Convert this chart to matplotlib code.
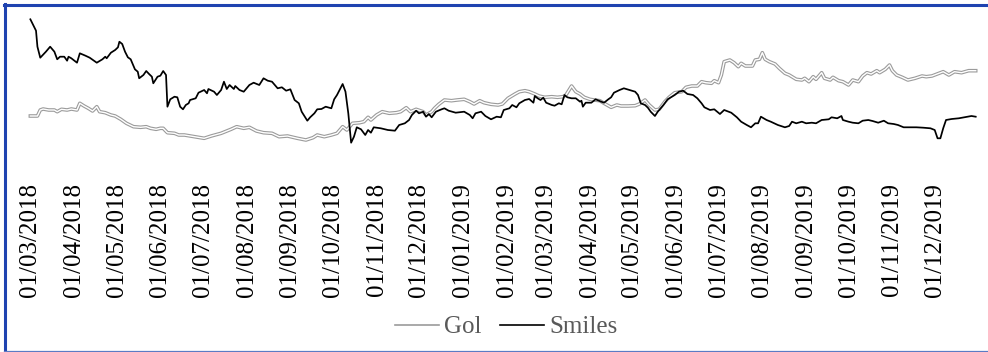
import matplotlib
matplotlib.use("Agg")
import matplotlib.pyplot as plt
import matplotlib.dates as mdates
from matplotlib.lines import Line2D
import pandas as pd

# Smiles (black line), values on an arbitrary index scale
SMILES_DATES = [
    "2018-03-01", "2018-03-05", "2018-03-06", "2018-03-08", "2018-03-12", "2018-03-15", "2018-03-18", "2018-03-20",
    "2018-03-22", "2018-03-25", "2018-03-27", "2018-03-28", "2018-03-30", "2018-04-03", "2018-04-05", "2018-04-09",
    "2018-04-12", "2018-04-17", "2018-04-21", "2018-04-23", "2018-04-24", "2018-04-27", "2018-04-30", "2018-05-02",
    "2018-05-03", "2018-05-05", "2018-05-07", "2018-05-09", "2018-05-11", "2018-05-14", "2018-05-16", "2018-05-17",
    "2018-05-20", "2018-05-22", "2018-05-24", "2018-05-26", "2018-05-27", "2018-05-30", "2018-06-01", "2018-06-03",
    "2018-06-05", "2018-06-06", "2018-06-08", "2018-06-11", "2018-06-13", "2018-06-15", "2018-06-17", "2018-06-19",
    "2018-06-21", "2018-06-22", "2018-06-26", "2018-06-28", "2018-07-02", "2018-07-04", "2018-07-05", "2018-07-09",
    "2018-07-11", "2018-07-14", "2018-07-16", "2018-07-18", "2018-07-20", "2018-07-23", "2018-07-24", "2018-07-27",
    "2018-07-30", "2018-08-03", "2018-08-06", "2018-08-10", "2018-08-13", "2018-08-16", "2018-08-19", "2018-08-23",
    "2018-08-26", "2018-08-29", "2018-09-01", "2018-09-04", "2018-09-07", "2018-09-09", "2018-09-13", "2018-09-15",
    "2018-09-18", "2018-09-20", "2018-09-23", "2018-09-26", "2018-09-30", "2018-10-02", "2018-10-04", "2018-10-08",
    "2018-10-10", "2018-10-12", "2018-10-14", "2018-10-16", "2018-10-18", "2018-10-21", "2018-10-24", "2018-10-26",
    "2018-10-28", "2018-10-30", "2018-11-04", "2018-11-09", "2018-11-14", "2018-11-17", "2018-11-21", "2018-11-24",
    "2018-11-26", "2018-11-29", "2018-12-01", "2018-12-04", "2018-12-06", "2018-12-08", "2018-12-10", "2018-12-13",
    "2018-12-17", "2018-12-19", "2018-12-22", "2018-12-27", "2019-01-02", "2019-01-06", "2019-01-08", "2019-01-10",
    "2019-01-14", "2019-01-17", "2019-01-21", "2019-01-25", "2019-01-28", "2019-01-30", "2019-02-03", "2019-02-05",
    "2019-02-08", "2019-02-10", "2019-02-14", "2019-02-17", "2019-02-20", "2019-02-21", "2019-02-23", "2019-02-25",
    "2019-02-27", "2019-03-01", "2019-03-05", "2019-03-07", "2019-03-10", "2019-03-12", "2019-03-14", "2019-03-16",
    "2019-03-19", "2019-03-22", "2019-03-25", "2019-03-26", "2019-03-27", "2019-03-29", "2019-04-02", "2019-04-05",
    "2019-04-09", "2019-04-11", "2019-04-14", "2019-04-16", "2019-04-18", "2019-04-22", "2019-04-25", "2019-04-29",
    "2019-05-03", "2019-05-05", "2019-05-07", "2019-05-10", "2019-05-12", "2019-05-14", "2019-05-17", "2019-05-19",
    "2019-05-23", "2019-05-26", "2019-05-31", "2019-06-03", "2019-06-06", "2019-06-09", "2019-06-13", "2019-06-16",
    "2019-06-19", "2019-06-21", "2019-06-25", "2019-06-28", "2019-07-02", "2019-07-05", "2019-07-10", "2019-07-14",
    "2019-07-17", "2019-07-21", "2019-07-24", "2019-07-27", "2019-07-29", "2019-07-31", "2019-08-04", "2019-08-07",
    "2019-08-12", "2019-08-17", "2019-08-20", "2019-08-22", "2019-08-25", "2019-08-29", "2019-09-01", "2019-09-05",
    "2019-09-08", "2019-09-12", "2019-09-17", "2019-09-19", "2019-09-23", "2019-09-26", "2019-09-27", "2019-10-01",
    "2019-10-04", "2019-10-08", "2019-10-11", "2019-10-15", "2019-10-18", "2019-10-22", "2019-10-26", "2019-10-29",
    "2019-11-02", "2019-11-05", "2019-11-09", "2019-11-13", "2019-11-18", "2019-11-23", "2019-11-28", "2019-12-01",
    "2019-12-03", "2019-12-05", "2019-12-07", "2019-12-09", "2019-12-13", "2019-12-18", "2019-12-22", "2019-12-27",
    "2019-12-30",
]
SMILES_VALUES = [
    140.7, 129.3, 113.3, 102.3, 108.3, 113.3, 108.3, 100.7, 103.3, 103.3, 99.3, 103.3, 101.7, 97.3, 106.7, 104.3,
    102.3, 97.3, 100.7, 103.3, 101.7, 107.3, 110.0, 112.7, 118.3, 116.0, 108.3, 102.7, 100.7, 90.7, 88.3, 81.7,
    85.0, 89.0, 86.0, 83.3, 76.7, 83.3, 84.3, 89.0, 85.0, 53.3, 60.7, 63.3, 62.7, 53.3, 50.7, 55.0,
    56.7, 60.0, 61.7, 67.3, 70.0, 66.7, 71.0, 68.3, 65.0, 70.0, 78.3, 71.0, 75.0, 71.0, 74.0, 70.0,
    68.3, 75.0, 77.3, 75.0, 81.7, 79.3, 78.3, 71.7, 72.7, 69.3, 70.7, 60.0, 56.7, 48.3, 39.3, 42.7,
    46.7, 50.7, 51.0, 53.3, 51.7, 60.7, 65.0, 76.0, 68.3, 46.7, 17.3, 23.3, 32.7, 30.7, 25.0, 30.0,
    27.3, 32.7, 31.7, 30.0, 29.3, 35.0, 36.7, 40.0, 45.0, 49.3, 46.7, 48.3, 43.3, 46.0, 42.7, 48.3,
    50.7, 51.7, 49.3, 47.3, 48.3, 45.0, 41.7, 46.7, 48.3, 44.0, 40.7, 43.3, 42.7, 50.0, 51.7, 55.0,
    52.7, 56.7, 60.0, 61.0, 57.3, 64.0, 61.7, 60.0, 62.3, 57.3, 55.0, 54.3, 56.7, 55.7, 65.0, 62.7,
    61.7, 61.7, 58.3, 59.3, 53.3, 57.3, 57.3, 60.7, 58.3, 57.3, 60.7, 62.7, 67.3, 70.0, 71.7, 70.0,
    68.3, 65.0, 56.7, 55.0, 52.3, 48.3, 44.0, 48.3, 55.0, 60.7, 65.0, 68.3, 69.3, 66.0, 65.0, 61.7,
    56.7, 52.7, 50.0, 50.7, 46.0, 50.0, 47.3, 42.7, 38.3, 35.0, 32.7, 36.7, 36.7, 43.3, 40.0, 38.3,
    35.0, 32.7, 34.0, 38.3, 36.7, 38.3, 36.7, 37.3, 36.7, 40.0, 40.7, 42.7, 41.7, 44.0, 40.0, 38.3,
    37.3, 36.7, 39.3, 40.0, 39.0, 37.3, 39.3, 36.7, 36.0, 35.0, 32.7, 32.7, 32.7, 32.3, 31.7, 30.0,
    21.7, 21.7, 31.7, 40.0, 41.0, 41.7, 42.7, 44.0, 43.3,
]

# Gol (grey double line)
GOL_DATES = [
    "2018-03-01", "2018-03-06", "2018-03-08", "2018-03-10", "2018-03-14", "2018-03-18", "2018-03-20", "2018-03-23",
    "2018-03-27", "2018-03-30", "2018-04-03", "2018-04-05", "2018-04-08", "2018-04-11", "2018-04-14", "2018-04-17",
    "2018-04-19", "2018-04-23", "2018-04-27", "2018-04-30", "2018-05-04", "2018-05-08", "2018-05-13", "2018-05-18",
    "2018-05-22", "2018-05-25", "2018-05-29", "2018-06-01", "2018-06-03", "2018-06-06", "2018-06-11", "2018-06-14",
    "2018-06-18", "2018-06-25", "2018-07-02", "2018-07-07", "2018-07-14", "2018-07-21", "2018-07-25", "2018-07-30",
    "2018-08-03", "2018-08-08", "2018-08-13", "2018-08-19", "2018-08-24", "2018-08-30", "2018-09-06", "2018-09-12",
    "2018-09-17", "2018-09-20", "2018-09-25", "2018-09-30", "2018-10-04", "2018-10-08", "2018-10-11", "2018-10-15",
    "2018-10-20", "2018-10-23", "2018-10-26", "2018-10-28", "2018-11-01", "2018-11-05", "2018-11-10", "2018-11-15",
    "2018-11-18", "2018-11-22", "2018-11-25", "2018-11-29", "2018-12-04", "2018-12-06", "2018-12-10", "2018-12-12",
    "2018-12-15", "2018-12-19", "2018-12-24", "2018-12-28", "2019-01-02", "2019-01-06", "2019-01-09", "2019-01-13",
    "2019-01-16", "2019-01-21", "2019-01-26", "2019-01-29", "2019-02-02", "2019-02-07", "2019-02-10", "2019-02-14",
    "2019-02-17", "2019-02-21", "2019-02-24", "2019-02-28", "2019-03-05", "2019-03-09", "2019-03-13", "2019-03-15",
    "2019-03-18", "2019-03-19", "2019-03-22", "2019-03-25", "2019-03-28", "2019-04-01", "2019-04-04", "2019-04-08",
    "2019-04-11", "2019-04-16", "2019-04-20", "2019-04-23", "2019-04-28", "2019-05-03", "2019-05-06", "2019-05-10",
    "2019-05-13", "2019-05-17", "2019-05-20", "2019-05-24", "2019-05-27", "2019-05-31", "2019-06-05", "2019-06-08",
    "2019-06-12", "2019-06-16", "2019-06-19", "2019-06-22", "2019-06-26", "2019-06-28", "2019-07-01", "2019-07-03",
    "2019-07-05", "2019-07-09", "2019-07-12", "2019-07-15", "2019-07-17", "2019-07-20", "2019-07-23", "2019-07-25",
    "2019-07-27", "2019-07-30", "2019-08-01", "2019-08-03", "2019-08-06", "2019-08-10", "2019-08-13", "2019-08-17",
    "2019-08-20", "2019-08-25", "2019-08-29", "2019-08-31", "2019-09-03", "2019-09-06", "2019-09-08", "2019-09-12",
    "2019-09-14", "2019-09-18", "2019-09-20", "2019-09-24", "2019-09-27", "2019-10-01", "2019-10-04", "2019-10-08",
    "2019-10-11", "2019-10-14", "2019-10-17", "2019-10-21", "2019-10-23", "2019-10-27", "2019-10-30", "2019-11-01",
    "2019-11-04", "2019-11-08", "2019-11-12", "2019-11-17", "2019-11-22", "2019-11-25", "2019-11-29", "2019-12-04",
    "2019-12-07", "2019-12-11", "2019-12-15", "2019-12-20", "2019-12-25", "2019-12-30",
]
GOL_VALUES = [
    44.0, 44.0, 50.0, 51.0, 50.0, 50.0, 48.3, 50.7, 50.0, 51.0, 50.0, 56.7, 54.0, 51.7, 49.0, 53.3,
    48.3, 47.3, 45.0, 44.0, 40.7, 36.7, 33.3, 32.7, 33.3, 31.7, 30.7, 31.7, 31.7, 27.3, 26.7, 25.0,
    25.0, 23.3, 21.7, 24.0, 26.7, 30.7, 33.3, 31.7, 32.7, 29.0, 27.3, 26.7, 23.3, 24.0, 21.7, 20.0,
    22.3, 25.0, 23.3, 25.0, 26.7, 33.3, 30.0, 36.7, 37.3, 38.3, 42.7, 40.0, 45.0, 48.3, 46.7, 47.3,
    48.3, 52.3, 48.3, 50.7, 48.3, 45.0, 48.3, 51.7, 55.7, 60.0, 59.3, 60.0, 60.7, 58.3, 56.0, 59.3,
    57.3, 55.7, 55.0, 56.0, 61.7, 66.0, 68.3, 69.3, 68.3, 66.0, 64.0, 62.7, 63.3, 62.7, 63.3, 65.0,
    71.7, 74.0, 68.3, 66.0, 62.7, 60.7, 60.0, 59.3, 56.7, 52.7, 55.0, 54.0, 54.0, 54.3, 56.0, 60.0,
    55.0, 50.0, 50.7, 58.3, 62.7, 67.3, 68.3, 72.7, 74.0, 74.0, 78.3, 77.3, 76.7, 79.3, 77.3, 85.0,
    98.3, 100.0, 97.3, 93.3, 96.7, 94.0, 94.0, 94.0, 100.0, 100.7, 107.3, 100.7, 98.3, 96.0, 91.7, 86.7,
    85.0, 80.7, 80.0, 81.7, 78.3, 83.3, 80.7, 87.3, 81.7, 80.0, 82.7, 79.3, 78.3, 75.0, 80.0, 78.3,
    84.0, 87.3, 86.0, 89.3, 87.3, 90.7, 95.0, 89.3, 85.0, 82.7, 80.0, 81.7, 84.0, 83.3, 84.0, 86.7,
    88.3, 85.0, 88.3, 87.3, 89.3, 89.3,
]

TICK_DATES = pd.date_range("2018-03-01", "2019-12-01", freq="MS")
SERIES = ["Gol", "Smiles"]

FONT = "Liberation Serif"
GOL_GREY = "#9b9b9b"
BORDER_DARK = "#1f43b0"
BORDER_LIGHT = "#5b7bc4"

W, H = 988, 352
fig = plt.figure(figsize=(W / 100, H / 100), dpi=100)
ax = fig.add_axes([20 / W, 174 / H, 965 / W, 168 / H])

gol_x = pd.to_datetime(GOL_DATES)
smiles_x = pd.to_datetime(SMILES_DATES)

# grey "double" line: grey stroke with a thin white core
ax.plot(gol_x, GOL_VALUES, color=GOL_GREY, lw=2.6, solid_joinstyle="round", zorder=2)
ax.plot(gol_x, GOL_VALUES, color="white", lw=1.0, solid_joinstyle="round", zorder=3)
ax.plot(smiles_x, SMILES_VALUES, color="black", lw=1.25, solid_joinstyle="round", zorder=4)

ax.set_xlim(pd.Timestamp("2018-02-21 16:00"), pd.Timestamp("2020-01-05 14:00"))
ax.set_ylim(-18, 150)
ax.set_xticks(TICK_DATES)
ax.xaxis.set_major_formatter(mdates.DateFormatter("%d/%m/%Y"))
ax.tick_params(axis="x", length=0, pad=3.5, labelsize=18, rotation=90)
for lab in ax.get_xticklabels():
    lab.set_fontfamily(FONT)
ax.set_yticks([])
for side in ax.spines.values():
    side.set_visible(False)

handles = [
    Line2D([], [], color=GOL_GREY, lw=1.2),
    Line2D([], [], color="black", lw=1.2),
]
fig.legend(handles, SERIES, loc="center", bbox_to_anchor=(506 / W, 1 - 327 / H), ncol=2,
           frameon=False, handlelength=1.76, handletextpad=0.2, columnspacing=0.75,
           prop={"family": FONT, "size": 18}, labelcolor="#595959")

# chart-area border
fig.add_artist(Line2D([5.3 / W, 5.3 / W], [0, 1 - 4 / H], transform=fig.transFigure, color=BORDER_DARK, lw=2.2))
fig.add_artist(Line2D([4 / W, 1], [1 - 5.3 / H, 1 - 5.3 / H], transform=fig.transFigure, color=BORDER_DARK, lw=2.2))
fig.add_artist(Line2D([4 / W, 1], [1.5 / H, 1.5 / H], transform=fig.transFigure, color=BORDER_LIGHT, lw=0.9))

fig.savefig("out.png", dpi=100)
